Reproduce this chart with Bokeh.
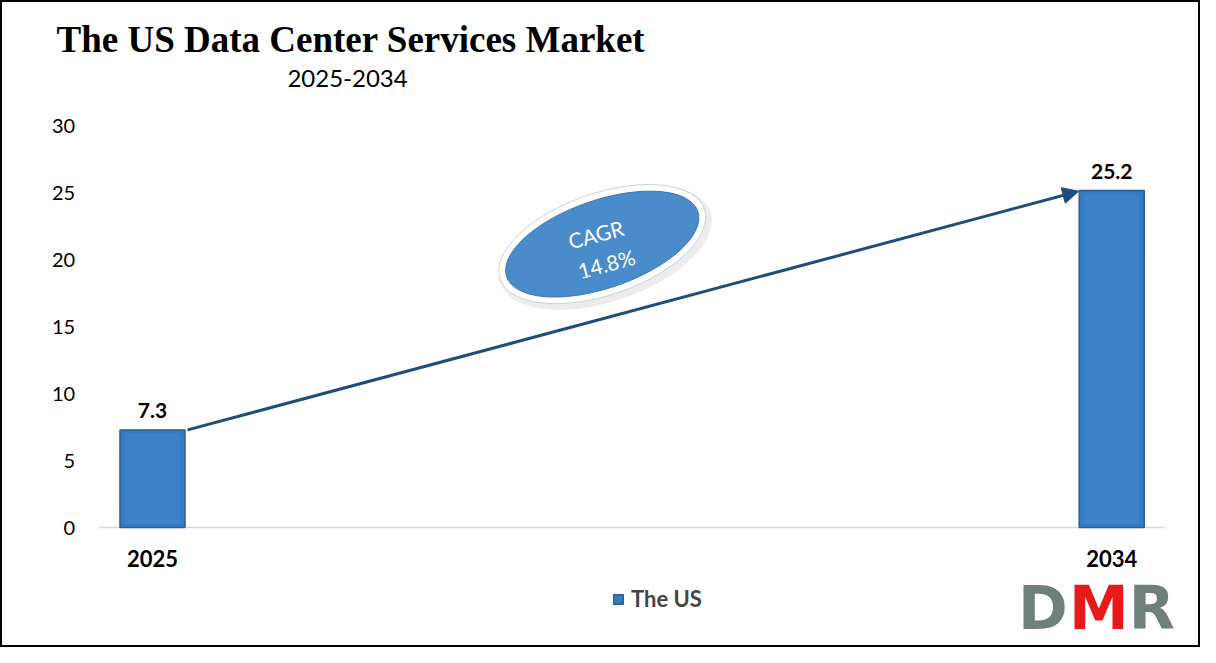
from bokeh.plotting import figure
from bokeh.models import Label, Arrow, NormalHead, Legend, LegendItem, FixedTicker, Range1d
from bokeh.embed import file_html
from bokeh.resources import INLINE

years = [2025, 2034]
values = [7.3, 25.2]
value_labels = ["7.3", "25.2"]
y_ticks = [0, 5, 10, 15, 20, 25, 30]
cagr_text = ["CAGR", "14.8%"]
series_name = "The US"
title_text = "The US Data Center Services Market"
subtitle_text = "2025-2034"
logo_letters = ["D", "M", "R"]
logo_colors = ["#6F7F7C", "#E8191B", "#6F7F7C"]

# category band limits (ten yearly slots 2025..2034)
x_lo, x_hi = 2024.5, 2034.5
y_lo, y_hi = 0, 30

p = figure(width=1200, height=647, output_backend="svg", toolbar_location=None,
           x_range=Range1d(2023.574, 2034.833), y_range=Range1d(-8.975, 39.42),
           min_border=0)
p.outline_line_color = "#000000"
p.outline_line_width = 3
p.grid.visible = False
p.background_fill_color = "white"
p.border_fill_color = "white"

# axes drawn inside the frame at fixed positions
p.yaxis.fixed_location = x_lo
p.yaxis.ticker = FixedTicker(ticks=y_ticks)
p.yaxis.axis_line_color = None
p.yaxis.major_tick_line_color = None
p.yaxis.minor_tick_line_color = None
p.yaxis.major_label_text_font = "Lato"
p.yaxis.major_label_text_font_size = "20px"
p.yaxis.major_label_text_color = "#000000"
p.yaxis.major_label_standoff = 18

p.xaxis.fixed_location = y_lo
p.xaxis.ticker = FixedTicker(ticks=years)
p.xaxis.axis_line_color = None
p.xaxis.major_tick_line_color = None
p.xaxis.minor_tick_line_color = None
p.xaxis.major_label_text_font = "Lato"
p.xaxis.major_label_text_font_style = "bold"
p.xaxis.major_label_text_font_size = "22px"
p.xaxis.major_label_text_color = "#000000"
p.xaxis.major_label_standoff = 16

# baseline across the category band
p.line(x=[x_lo, x_hi], y=[y_lo, y_lo], line_color="#D9D9D9", line_width=1.5)

# bars
bars = p.vbar(x=years, top=values, width=0.61, fill_color="#377BC1",
              line_color="#2A5E92", line_width=1.5)
p.vbar(x=years, top=[v - 0.25 for v in values], width=0.52, fill_color="#3C82C8",
       line_color=None, bottom=0.25)

for x, v, t in zip(years, values, value_labels):
    p.add_layout(Label(x=x, y=v, text=t, text_align="center", text_baseline="bottom",
                       y_offset=12, text_font="Lato", text_font_style="bold",
                       text_font_size="21px", text_color="#000000"))

# arrow
p.add_layout(Arrow(x_start=2025.33, y_start=values[0], x_end=2033.69, y_end=25.15,
                   line_color="#1F4E79", line_width=3,
                   end=NormalHead(size=16, fill_color="#1F4E79", line_color="#1F4E79")))

# CAGR ellipse
cx, cy = 2029.22, 21.2
p.ellipse(x=[cx + 0.03], y=[cy - 0.25], width=222, height=108, angle=0.33,
          width_units="screen", height_units="screen", fill_color="#A0A0A0",
          fill_alpha=0.2, line_color=None)
p.ellipse(x=[cx], y=[cy], width=216, height=102, angle=0.33,
          width_units="screen", height_units="screen", fill_color="#FFFFFF",
          line_color="#C8D2DC", line_width=1)
p.ellipse(x=[cx], y=[cy], width=202, height=88, angle=0.33,
          width_units="screen", height_units="screen", fill_color="#4A8BCB",
          line_color="#3E78B3", line_width=1)
p.add_layout(Label(x=cx - 0.06, y=cy + 0.75, text=cagr_text[0], angle=0.26,
                   text_align="center", text_baseline="middle", text_font="Lato",
                   text_font_size="21px", text_color="white"))
p.add_layout(Label(x=cx + 0.04, y=cy - 1.45, text=cagr_text[1], angle=0.26,
                   text_align="center", text_baseline="middle", text_font="Lato",
                   text_font_size="21px", text_color="white"))

# title and subtitle
p.add_layout(Label(x=2024.1, y=36.5, text=title_text, text_font="Liberation Serif",
                   text_font_style="bold", text_font_size="37px", text_color="#000000",
                   text_baseline="middle"))
p.add_layout(Label(x=2026.83, y=33.6, text=subtitle_text, text_font="Lato",
                   text_font_size="24px", text_color="#000000", text_align="center",
                   text_baseline="middle"))

# legend
legend = Legend(items=[LegendItem(label=series_name, renderers=[bars])],
                location=(612, 35), orientation="horizontal", padding=0, margin=0,
                label_text_font="Lato", label_text_font_style="bold",
                label_text_font_size="22px", glyph_width=12, glyph_height=12,
                label_standoff=7, border_line_color=None, background_fill_alpha=0)
p.add_layout(legend, "center")

# logo
logo_x = [2033.12, 2033.6, 2034.16]
for lx, letter, col in zip(logo_x, logo_letters, logo_colors):
    p.add_layout(Label(x=lx, y=-6.0, text=letter, text_font="DejaVu Sans",
                       text_font_style="bold", text_font_size="60px", text_color=col,
                       text_baseline="middle"))

open("out.html", "w").write(file_html(p, INLINE))
